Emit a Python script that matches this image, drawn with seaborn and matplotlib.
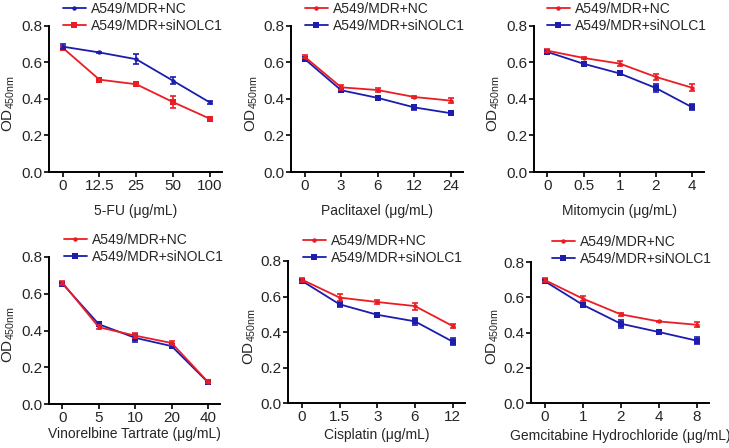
import numpy as np
import pandas as pd
import matplotlib
matplotlib.use("Agg")
import matplotlib.pyplot as plt
import seaborn as sns

# --- data (OD450, mean +/- error) ---
drugs = ["5-FU", "Paclitaxel", "Mitomycin",
         "Vinorelbine Tartrate", "Cisplatin", "Gemcitabine Hydrochloride"]

doses_5fu = ["0", "12.5", "25", "50", "100"]
nc_5fu = [0.687, 0.655, 0.618, 0.500, 0.381]
nc_5fu_err = [0.012, 0.005, 0.028, 0.020, 0.010]
si_5fu = [0.681, 0.506, 0.481, 0.383, 0.292]
si_5fu_err = [0.008, 0.010, 0.006, 0.035, 0.010]

doses_ptx = ["0", "3", "6", "12", "24"]
nc_ptx = [0.632, 0.464, 0.449, 0.411, 0.391]
nc_ptx_err = [0.010, 0.015, 0.010, 0.006, 0.012]
si_ptx = [0.620, 0.448, 0.406, 0.354, 0.322]
si_ptx_err = [0.010, 0.008, 0.010, 0.015, 0.010]

doses_mmc = ["0", "0.5", "1", "2", "4"]
nc_mmc = [0.665, 0.625, 0.594, 0.521, 0.462]
nc_mmc_err = [0.010, 0.005, 0.015, 0.015, 0.020]
si_mmc = [0.658, 0.593, 0.540, 0.460, 0.355]
si_mmc_err = [0.008, 0.008, 0.010, 0.020, 0.015]

doses_nvb = ["0", "5", "10", "20", "40"]
nc_nvb = [0.660, 0.418, 0.372, 0.332, 0.120]
nc_nvb_err = [0.012, 0.010, 0.012, 0.010, 0.008]
si_nvb = [0.655, 0.434, 0.360, 0.315, 0.118]
si_nvb_err = [0.008, 0.008, 0.020, 0.008, 0.008]

doses_ddp = ["0", "1.5", "3", "6", "12"]
nc_ddp = [0.695, 0.594, 0.569, 0.546, 0.434]
nc_ddp_err = [0.012, 0.022, 0.010, 0.020, 0.010]
si_ddp = [0.688, 0.556, 0.497, 0.460, 0.346]
si_ddp_err = [0.008, 0.015, 0.010, 0.020, 0.022]

doses_gem = ["0", "1", "2", "4", "8"]
nc_gem = [0.697, 0.592, 0.503, 0.463, 0.444]
nc_gem_err = [0.012, 0.015, 0.010, 0.005, 0.015]
si_gem = [0.690, 0.557, 0.450, 0.403, 0.354]
si_gem_err = [0.010, 0.012, 0.022, 0.012, 0.020]

panels = [
    (doses_5fu, nc_5fu, nc_5fu_err, si_5fu, si_5fu_err),
    (doses_ptx, nc_ptx, nc_ptx_err, si_ptx, si_ptx_err),
    (doses_mmc, nc_mmc, nc_mmc_err, si_mmc, si_mmc_err),
    (doses_nvb, nc_nvb, nc_nvb_err, si_nvb, si_nvb_err),
    (doses_ddp, nc_ddp, nc_ddp_err, si_ddp, si_ddp_err),
    (doses_gem, nc_gem, nc_gem_err, si_gem, si_gem_err),
]

RED = "#ec1c24"
BLUE = "#1c1cae"

sns.set_style("ticks")
plt.rcParams["font.family"] = ["Liberation Sans", "DejaVu Sans"]
plt.rcParams["mathtext.fontset"] = "custom"
plt.rcParams["mathtext.rm"] = "Liberation Sans"

W, H = 729, 448
fig = plt.figure(figsize=(W / 100, H / 100), dpi=100)

# axes boxes in pixels: left, right, top, bottom
boxes = [(49, 222, 26, 172), (291, 463, 26, 172), (534, 704, 26, 172),
         (49, 220, 257, 404), (288, 465, 261, 403), (531, 709, 262, 403)]
# legend anchor (left of handle, top) in pixels
leg_pos = [(63, 2), (305, 2), (547, 2), (64, 233), (303, 234), (552, 235)]
# x-label centre y and y-label centre x, in pixels
xlab_y = [211, 211, 211, 434, 435, 436]
ylab_x = [9, 252, 494, 9, 250, 493]

for i, (doses, nc, nc_err, si, si_err) in enumerate(panels):
    l, r, t, b = boxes[i]
    ax = fig.add_axes([l / W, 1 - b / H, (r - l) / W, (b - t) / H])
    nc_col, si_col = (BLUE, RED) if i == 0 else (RED, BLUE)
    x = np.arange(len(doses))
    df = pd.DataFrame({"x": np.concatenate([x, x]),
                       "od": nc + si,
                       "grp": ["A549/MDR+NC"] * 5 + ["A549/MDR+siNOLC1"] * 5})

    order = [("A549/MDR+siNOLC1", si, si_err, si_col, "s", 4.2),
             ("A549/MDR+NC", nc, nc_err, nc_col, "o", 3.2)]
    for name, vals, err, col, mk, ms in order:
        sub = df[df["grp"] == name]
        sns.lineplot(data=sub, x="x", y="od", ax=ax, color=col, marker=mk,
                     markersize=ms, markeredgewidth=0, linewidth=1.3,
                     label=name, legend=False)
        ax.errorbar(x, vals, yerr=err, fmt="none", ecolor=col,
                    elinewidth=1.2, capsize=2, capthick=1.2)

    ax.set_xlim(-0.37, 4.33)
    ax.set_ylim(0, 0.8)
    ax.set_yticks([0, 0.2, 0.4, 0.6, 0.8])
    ax.set_yticklabels(["0.0", "0.2", "0.4", "0.6", "0.8"])
    ax.set_xticks(x)
    ax.set_xticklabels(doses)
    ax.tick_params(labelsize=11, length=3.5, width=1.2, pad=1.5, color="black")
    for s in ("left", "bottom"):
        ax.spines[s].set_linewidth(1.4)
        ax.spines[s].set_color("black")
    sns.despine(ax=ax)
    ax.set_xlabel(f"{drugs[i]} (\u03bcg/mL)", fontsize=10, va="center")
    ax.xaxis.set_label_coords(0.5, (b - xlab_y[i]) / (b - t))
    ax.set_ylabel(r"OD$_\mathregular{450nm}$", fontsize=11, va="center")
    ax.yaxis.set_label_coords((ylab_x[i] - l) / (r - l), 0.47)

    h, lab = ax.get_legend_handles_labels()
    lx, ly = leg_pos[i]
    ax.legend(h[::-1], lab[::-1], loc="upper left",
              bbox_to_anchor=(lx / W, 1 - ly / H), bbox_transform=fig.transFigure,
              frameon=False, fontsize=10, handlelength=1.65, handletextpad=0.35,
              labelspacing=0.2, borderpad=0, borderaxespad=0)

fig.savefig("out.png", dpi=100)
